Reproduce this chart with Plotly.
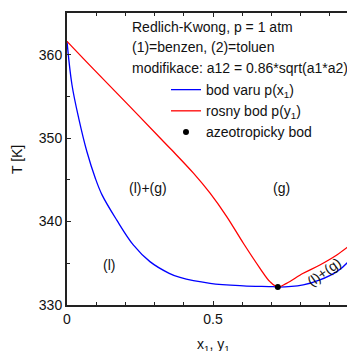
import plotly.graph_objects as go

# bubble point curve T(x1)
x_bub = [0, 0.017, 0.04, 0.068, 0.097, 0.12, 0.17, 0.227, 0.284, 0.35, 0.387, 0.49, 0.604, 0.706, 0.722, 0.809, 0.866, 0.924, 0.958, 0.986, 1.0]
T_bub = [361.6, 356.4, 352.4, 348.4, 345.2, 343.2, 340.2, 337.2, 335.2, 333.8, 333.3, 332.6, 332.3, 332.2, 332.15, 332.4, 333.0, 334.0, 335.0, 336.6, 337.9]

# dew point curve T(y1)
y_dew = [0, 0.09, 0.204, 0.318, 0.358, 0.433, 0.49, 0.547, 0.604, 0.661, 0.695, 0.722, 0.752, 0.809, 0.866, 0.924, 0.986, 1.0]
T_dew = [361.6, 358.3, 354.2, 350.05, 348.6, 345.8, 343.4, 340.6, 337.4, 334.4, 332.8, 332.15, 332.6, 333.8, 334.8, 336.0, 337.6, 337.9]

# azeotrope
x_az = [0.722]
T_az = [332.15]

header_lines = ["Redlich-Kwong, p = 1 atm", "(1)=benzen, (2)=toluen", "modifikace: a12 = 0.86*sqrt(a1*a2)"]
header_T = [363.35, 360.95, 358.35]
region_labels = ["(l)+(g)", "(g)", "(l)", "(l)+(g)"]
region_x = [0.277, 0.733, 0.144, 0.88]
region_T = [344.0, 344.0, 334.8, 334.0]
region_angle = [0, 0, 0, -36]

FONT = "Liberation Sans, Arial, sans-serif"
TXT = "#111"

fig = go.Figure()
fig.add_trace(go.Scatter(x=x_bub, y=T_bub, mode="lines", line=dict(color="#0000ff", width=1.3, shape="spline", smoothing=1.0),
                         name="bod varu p(x<sub>1</sub>)"))
fig.add_trace(go.Scatter(x=y_dew, y=T_dew, mode="lines", line=dict(color="#ff0000", width=1.3, shape="spline", smoothing=1.0),
                         name="rosny bod p(y<sub>1</sub>)"))
fig.add_trace(go.Scatter(x=x_az, y=T_az, mode="markers", marker=dict(color="black", size=6),
                         name="azeotropicky bod"))

for t, yy in zip(header_lines, header_T):
    fig.add_annotation(x=0.216, y=yy, xref="x", yref="y", text=t, showarrow=False, xanchor="left", yanchor="middle",
                       font=dict(family=FONT, size=14, color=TXT))
for t, xx, yy, a in zip(region_labels, region_x, region_T, region_angle):
    fig.add_annotation(x=xx, y=yy, xref="x", yref="y", text=t, showarrow=False, textangle=a,
                       font=dict(family=FONT, size=14, color=TXT))

# axis titles
fig.add_annotation(x=0.5, y=-0.137, xref="paper", yref="paper", text="x<sub>1</sub>, y<sub>1</sub>", showarrow=False,
                   xanchor="center", yanchor="middle", font=dict(family=FONT, size=14, color=TXT))
fig.add_annotation(x=-0.171, y=0.4966, xref="paper", yref="paper", text="T [K]", showarrow=False, textangle=-90,
                   xanchor="center", yanchor="middle", font=dict(family=FONT, size=14, color=TXT))

axis_common = dict(showline=True, linecolor="#222", linewidth=2, ticks="inside", tickcolor="#222", ticklen=4, tickwidth=1,
                   showgrid=False, zeroline=False, automargin=False, mirror="ticks",
                   tickfont=dict(family=FONT, size=14, color=TXT))
fig.update_xaxes(range=[0, 1], dtick=0.5, tick0=0,
                 minor=dict(dtick=0.1, ticks="inside", ticklen=3, tickcolor="#222"),
                 **axis_common)
fig.update_yaxes(range=[330, 365], dtick=10, tick0=330,
                 minor=dict(dtick=5, ticks="inside", ticklen=3, tickcolor="#222"),
                 **axis_common)

fig.update_layout(width=352, height=343, margin=dict(l=59, r=1, t=5, b=46),
                  plot_bgcolor="white", paper_bgcolor="white",
                  font=dict(family=FONT, size=14, color=TXT),
                  legend=dict(x=0.339, y=0.791, xanchor="left", yanchor="top", bgcolor="rgba(0,0,0,0)",
                              font=dict(family=FONT, size=14, color=TXT), tracegroupgap=0, itemwidth=30))
fig.write_html("out.html")
